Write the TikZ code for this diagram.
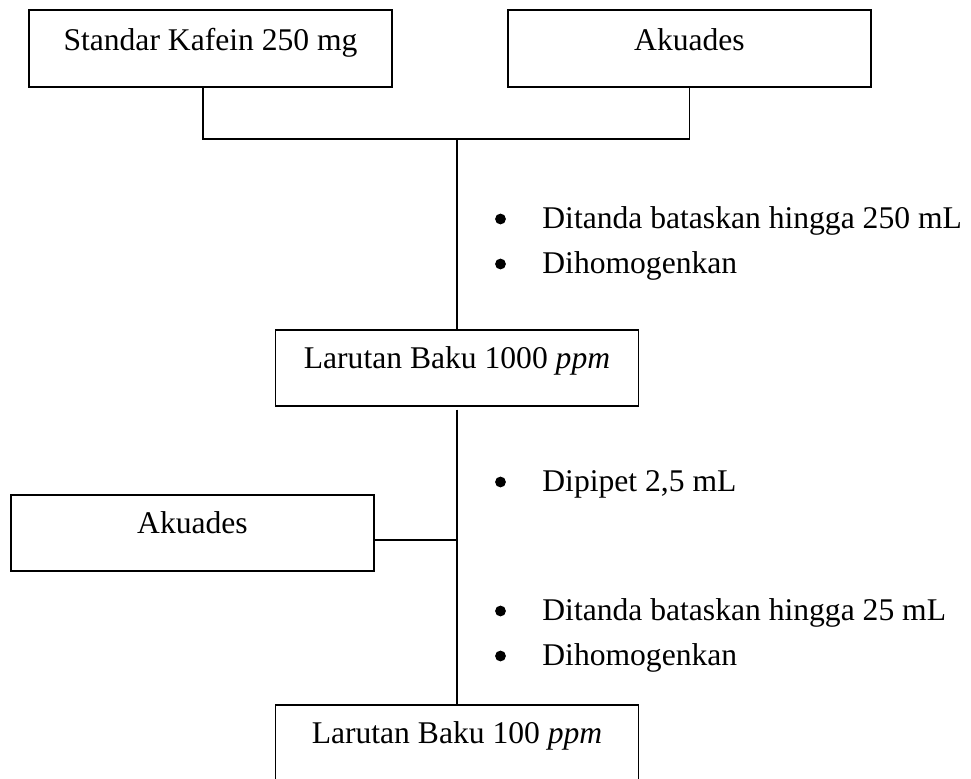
\documentclass[tikz,border=0pt]{standalone}
\usepackage{fontspec}
\setmainfont{Liberation Serif}
\usetikzlibrary{calc}
\begin{document}
\begin{tikzpicture}[x=0.5pt,y=-0.5pt,
  every node/.style={inner sep=0pt, font=\fontsize{15.8}{19}\selectfont},
  box/.style={draw, line width=0.75pt, minimum width=181.5pt, anchor=north,
              text height=20.5pt, text depth=18pt},
  boxb/.style={box, text height=19.5pt, text depth=18.5pt},
  link/.style={line width=0.75pt},
  bul/.style={circle, fill=black, minimum size=5.4pt},
  item/.style={anchor=base west}]
\useasboundingbox (0,0) rectangle (971,778);

% starting materials
\node[box] (kafein) at (210.5,9) {Standar Kafein 250 mg};
\node[box] (akuadesA) at (689.5,9) {Akuades};

% stock solutions and diluent
\node[boxb] (baku1000) at (457,329) {Larutan Baku 1000 \textit{ppm}};
\node[boxb] (akuadesB) at (192.5,494) {Akuades};
\node[boxb] (baku100) at (457,704) {Larutan Baku 100 \textit{ppm}};

% junctions
\coordinate (j1) at (457,139);
\coordinate (j2) at (457,540);

% connectors
\draw[link] ($(kafein.south)+(-7.5,0)$) |- (j1) -| (akuadesA.south);
\draw[link] (j1) -- (baku1000.north);
\draw[link, shorten <=1.5pt] (baku1000.south) -- (baku100.north);
\draw[link] (akuadesB.east |- j2) -- (j2);

% step notes
\node[bul] (b1) at (500.5,219) {};
\node[item] (t1) at (542,228) {Ditanda bataskan hingga 250 mL};
\node[bul] (b2) at (500.5,264) {};
\node[item] (t2) at (542,273) {Dihomogenkan};

\node[bul] (b3) at (500.5,482) {};
\node[item] (t3) at (542,491) {Dipipet 2,5 mL};

\node[bul] (b4) at (500.5,611) {};
\node[item] (t4) at (542,620) {Ditanda bataskan hingga 25 mL};
\node[bul] (b5) at (500.5,656) {};
\node[item] (t5) at (542,665) {Dihomogenkan};
\end{tikzpicture}
\end{document}
